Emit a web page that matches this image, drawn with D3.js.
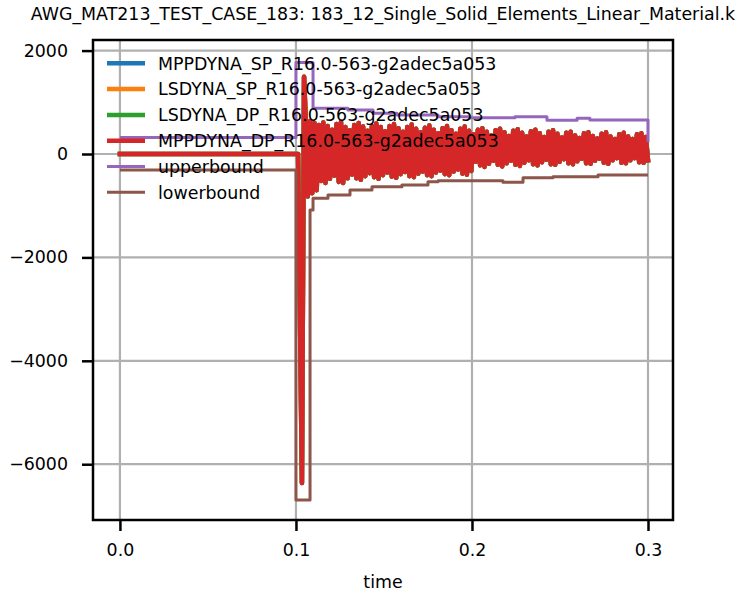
<!DOCTYPE html>
<html>
<head>
<meta charset="utf-8">
<script src="https://cdn.jsdelivr.net/npm/d3@7"></script>
<style>
  body { margin: 0; background: #fff; }
  svg { display: block; font-family: "DejaVu Sans", sans-serif; }
</style>
</head>
<body>
<svg id="chart" width="741" height="596"></svg>
<script>
const title = "AWG_MAT213_TEST_CASE_183: 183_12_Single_Solid_Elements_Linear_Material.k";

const seriesNames = [
  "MPPDYNA_SP_R16.0-563-g2adec5a053",
  "LSDYNA_SP_R16.0-563-g2adec5a053",
  "LSDYNA_DP_R16.0-563-g2adec5a053",
  "MPPDYNA_DP_R16.0-563-g2adec5a053"
];
const boundNames = ["upperbound", "lowerbound"];

// quiet phase and impact pulse
const impactTime = [0, 0.1012, 0.1034, 0.1046];
const impactForce = [0, 0, -6364, 1495];

// ringing after impact, written at a fixed output interval
const ringStart = 0.1055, ringEnd = 0.3;
const ringForce = [
  700, -820, 640, -760, 600, -700,
  560, -520, 610, -560, 540, -480, 470, -420, 580, -540, 620, -560, 520, -470,
  460, -400, 560, -470, 600, -500, 530, -430, 450, -370, 540, -450, 590, -480, 520, -410,
  440, -360, 540, -440, 580, -460, 500, -390, 430, -350, 520, -430, 570, -450, 490, -380,
  420, -340, 510, -410, 550, -430, 470, -360, 400, -320, 500, -390,
  540, -410, 460, -340, 390, -300, 490, -380, 530, -400, 450, -330,
  380, -150, 470, -220, 500, -250, 430, -190, 360, -130, 460, -210, 490, -240, 420, -180,
  350, -130, 450, -210, 480, -230, 410, -170, 340, -120, 440, -200, 470, -220, 400, -160,
  330, -110, 430, -200, 460, -210, 390, -150,
  320, -100, 410, -180, 430, -200, 360, -140, 310, -90, 400, -180, 420, -190, 350, -130,
  300, -90, 390, -170, 420, -190, 340, -120, 290, -80, 380, -170, 410, -180, 340, -120,
  290, -80, 380, -160, 400, -170, 330, -120
];

const upperTime  = [0, 0.1, 0.1097, 0.1295, 0.1438, 0.1574, 0.1807, 0.1983, 0.2244, 0.2426, 0.2597, 0.267, 0.3];
const upperForce = [320, 1770, 884, 851, 787, 754, 722, 702, 722, 652, 690, 658, 230];

const lowerTime  = [0, 0.1, 0.108, 0.1097, 0.1182, 0.1307, 0.1432, 0.1602, 0.175, 0.1807, 0.2176, 0.229, 0.246, 0.2716, 0.3];
const lowerForce = [-310, -6690, -1085, -858, -793, -696, -632, -600, -536, -515, -547, -458, -440, -406, -406];

const xTicks = [0, 0.1, 0.2, 0.3];
const yTicks = [2000, 0, -2000, -4000, -6000];

const colors = ["#1f77b4", "#ff7f0e", "#2ca02c", "#d62728", "#9467bd", "#8c564b"];

const width = 741, height = 596;
const margin = {top: 40, right: 68, bottom: 76, left: 93};
const fontSize = 17.4;

const svg = d3.select("#chart");

const x = d3.scaleLinear().domain([-0.0153, 0.3142]).range([margin.left, width - margin.right]);
const y = d3.scaleLinear().domain([-7079, 2205]).range([height - margin.bottom, margin.top]);

// build the simulation trace
const dtRing = (ringEnd - ringStart) / (ringForce.length - 1);
let trace = impactTime.map((t, i) => [t, impactForce[i]]);
trace = trace.concat(ringForce.map((v, i) => [ringStart + i * dtRing, v]));

const upper = upperTime.map((t, i) => [t, upperForce[i]]);
const lower = lowerTime.map((t, i) => [t, lowerForce[i]]);

svg.append("defs").append("clipPath").attr("id", "plot-clip")
  .append("rect")
  .attr("x", margin.left).attr("y", margin.top)
  .attr("width", width - margin.left - margin.right)
  .attr("height", height - margin.top - margin.bottom);

// grid
const grid = svg.append("g").attr("stroke", "#b0b0b0").attr("stroke-width", 2.2);
grid.selectAll(".gx").data(xTicks).enter().append("line")
  .attr("x1", d => x(d)).attr("x2", d => x(d))
  .attr("y1", margin.top).attr("y2", height - margin.bottom);
grid.selectAll(".gy").data(yTicks).enter().append("line")
  .attr("x1", margin.left).attr("x2", width - margin.right)
  .attr("y1", d => y(d)).attr("y2", d => y(d));

const line = d3.line().x(d => x(d[0])).y(d => y(d[1]));
const stepLine = d3.line().x(d => x(d[0])).y(d => y(d[1])).curve(d3.curveStepAfter);

const plot = svg.append("g").attr("clip-path", "url(#plot-clip)");

seriesNames.forEach((name, i) => {
  plot.append("path")
    .datum(trace)
    .attr("d", line)
    .attr("fill", "none")
    .attr("stroke", colors[i])
    .attr("stroke-width", 4.5)
    .attr("stroke-linejoin", "round")
    .attr("stroke-linecap", "square");
});

[upper, lower].forEach((b, i) => {
  plot.append("path")
    .datum(b)
    .attr("d", stepLine)
    .attr("fill", "none")
    .attr("stroke", colors[4 + i])
    .attr("stroke-width", 3)
    .attr("stroke-linejoin", "round");
});

// axes
const xAxis = svg.append("g")
  .attr("transform", `translate(0,${height - margin.bottom})`)
  .call(d3.axisBottom(x).tickValues(xTicks).tickFormat(d3.format(".1f")).tickSize(11).tickPadding(13));
const yAxis = svg.append("g")
  .attr("transform", `translate(${margin.left},0)`)
  .call(d3.axisLeft(y).tickValues(yTicks).tickFormat(d3.format("d")).tickSize(11).tickPadding(14));

[xAxis, yAxis].forEach(a => {
  a.select(".domain").remove();
  a.selectAll(".tick line").attr("stroke", "#000").attr("stroke-width", 2.5);
  a.selectAll(".tick text").attr("fill", "#000")
    .style("font-size", fontSize + "px").style("font-family", "DejaVu Sans");
});

// frame
svg.append("rect")
  .attr("x", margin.left).attr("y", margin.top)
  .attr("width", width - margin.left - margin.right)
  .attr("height", height - margin.top - margin.bottom)
  .attr("fill", "none").attr("stroke", "#000").attr("stroke-width", 2.5);

svg.append("text")
  .attr("x", (margin.left + width - margin.right) / 2)
  .attr("y", height - 8)
  .attr("text-anchor", "middle")
  .style("font-size", fontSize + "px")
  .text("time");

svg.append("text")
  .attr("x", (margin.left + width - margin.right) / 2)
  .attr("y", 20)
  .attr("text-anchor", "middle")
  .style("font-size", fontSize + "px")
  .text(title);

// legend, no frame
const legendNames = seriesNames.concat(boundNames);
const legend = svg.append("g");
legendNames.forEach((name, i) => {
  const ly = 63.3 + i * 25.8;
  legend.append("line")
    .attr("x1", 107).attr("x2", 145)
    .attr("y1", ly).attr("y2", ly)
    .attr("stroke", colors[i])
    .attr("stroke-width", i < 4 ? 4.5 : 3);
  legend.append("text")
    .attr("x", 158).attr("y", ly + 6.2)
    .style("font-size", fontSize + "px")
    .text(name);
});
</script>
</body>
</html>
